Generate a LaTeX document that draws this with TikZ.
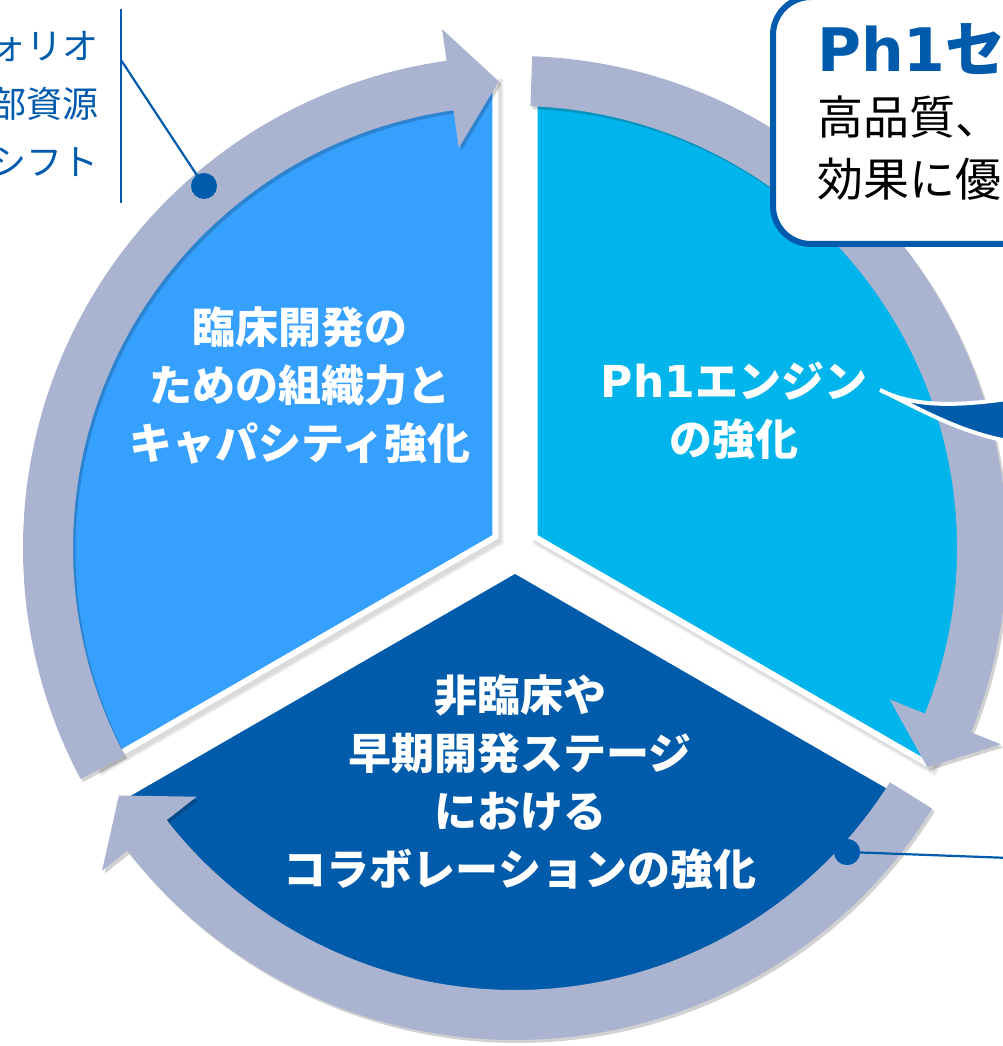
\documentclass[tikz,border=0pt]{standalone}
\usepackage{fontspec}
\setmainfont{DejaVu Sans}
\newfontfamily\jp{Noto Sans CJK JP}
\newfontfamily\lat{DejaVu Sans}
\definecolor{secL}{RGB}{54,160,254}
\definecolor{secR}{RGB}{0,181,236}
\definecolor{secB}{RGB}{0,91,171}
\definecolor{ringc}{RGB}{170,180,208}
\definecolor{navy}{RGB}{0,91,172}
\tikzset{
  sectortext/.style={text=white, align=center, font=\jp\bfseries\fontsize{43}{58}\selectfont},
  dotnode/.style={circle, fill=navy, inner sep=0pt, minimum size=26pt},
  leader/.style={navy, line width=2.2pt},
}
\begin{document}
\begin{tikzpicture}[x=1pt,y=1pt]
\useasboundingbox (0,0) rectangle (1002,1046);
\begin{scope}[shift={(515,498)}]
  % sector shadows
  \foreach \ang in {150,30,270} {
    \begin{scope}[shift={(\ang:26)}, shift={(3,-4)}]
      \filldraw[black!8, line width=16, line join=miter] (0,0) -- (\ang-60:452) arc[start angle=\ang-60, end angle=\ang+60, radius=452] -- cycle;
      \filldraw[black!14, line width=12, line join=miter] (0,0) -- (\ang-60:452) arc[start angle=\ang-60, end angle=\ang+60, radius=452] -- cycle;
    \end{scope}
  }
  % sectors with white border
  \foreach \ang/\col in {150/secL,30/secR,270/secB} {
    \begin{scope}[shift={(\ang:26)}]
      \draw[white, line width=12, line join=miter] (0,0) -- (\ang-60:452) arc[start angle=\ang-60, end angle=\ang+60, radius=452] -- cycle;
      \fill[\col] (0,0) -- (\ang-60:452) arc[start angle=\ang-60, end angle=\ang+60, radius=452] -- cycle;
    \end{scope}
  }
  % ring arrows
  \foreach \t/\b/\h in {208/98/92, 88/-22/-28, -32/-142/-148} {
    \begin{scope}[shift={(2.5,-3)}]
      \fill[black, opacity=0.18] (\t:492) arc[start angle=\t, end angle=\b, radius=492] -- (\b:524) -- (\h:467) -- (\b:404) -- (\b:442) arc[start angle=\b, end angle=\t, radius=442] -- cycle;
    \end{scope}
    \fill[ringc] (\t:492) arc[start angle=\t, end angle=\b, radius=492] -- (\b:524) -- (\h:467) -- (\b:404) -- (\b:442) arc[start angle=\b, end angle=\t, radius=442] -- cycle;
  }
\end{scope}

% sector texts
\node[sectortext] (tL) at (300,661) {臨床開発の\\ための組織力と\\キャパシティ強化};
\node[sectortext] (tR) at (734,635) {{\lat\bfseries\fontsize{44}{58}\selectfont Ph1}エンジン\\の強化};
\node[sectortext] (tB) at (520,264) {非臨床や\\早期開発ステージ\\における\\コラボレーションの強化};

% top-left callout
\node[anchor=east, align=right, text=navy, font=\jp\fontsize{36}{58}\selectfont] (cl) at (102,942) {ォリオ\\部資源\\シフト};
\coordinate (vt) at (121,1037);
\coordinate (vb) at (121,843);
\coordinate (vm) at (121,986);
\draw[leader] (vt) -- (vb);
\node[dotnode] (d1) at (204,860) {};
\draw[leader] (vm) -- (d1.center);

% top-right box
\draw[navy, line width=6, fill=white, rounded corners=38] (773,1049) rectangle (1080,802);
\node[anchor=base west, inner sep=0pt, text=navy, font=\lat\bfseries\fontsize{60}{60}\selectfont] (bx1) at (817,974) {Ph1{\jp\bfseries セ}};
\node[anchor=base west, inner sep=0pt, font=\jp\fontsize{46}{46}\selectfont] (bx2) at (817,911) {高品質、};
\node[anchor=base west, inner sep=0pt, font=\jp\fontsize{46}{46}\selectfont] (bx3) at (817,849) {効果に優};

% swoosh tail from Ph1 engine
\coordinate (sw) at (880,656);
\filldraw[fill=secB, draw=white, line width=4, line join=round] (sw) .. controls (915,638) and (960,640) .. (1014,648) -- (1014,604) .. controls (960,612) and (915,640) .. (sw);

% lower-right callout
\node[dotnode] (d2) at (847,194) {};
\coordinate (re) at (1010,188);
\draw[leader] (d2.center) -- (re);
\node[dotnode] at (847,194) {};
\end{tikzpicture}
\end{document}
